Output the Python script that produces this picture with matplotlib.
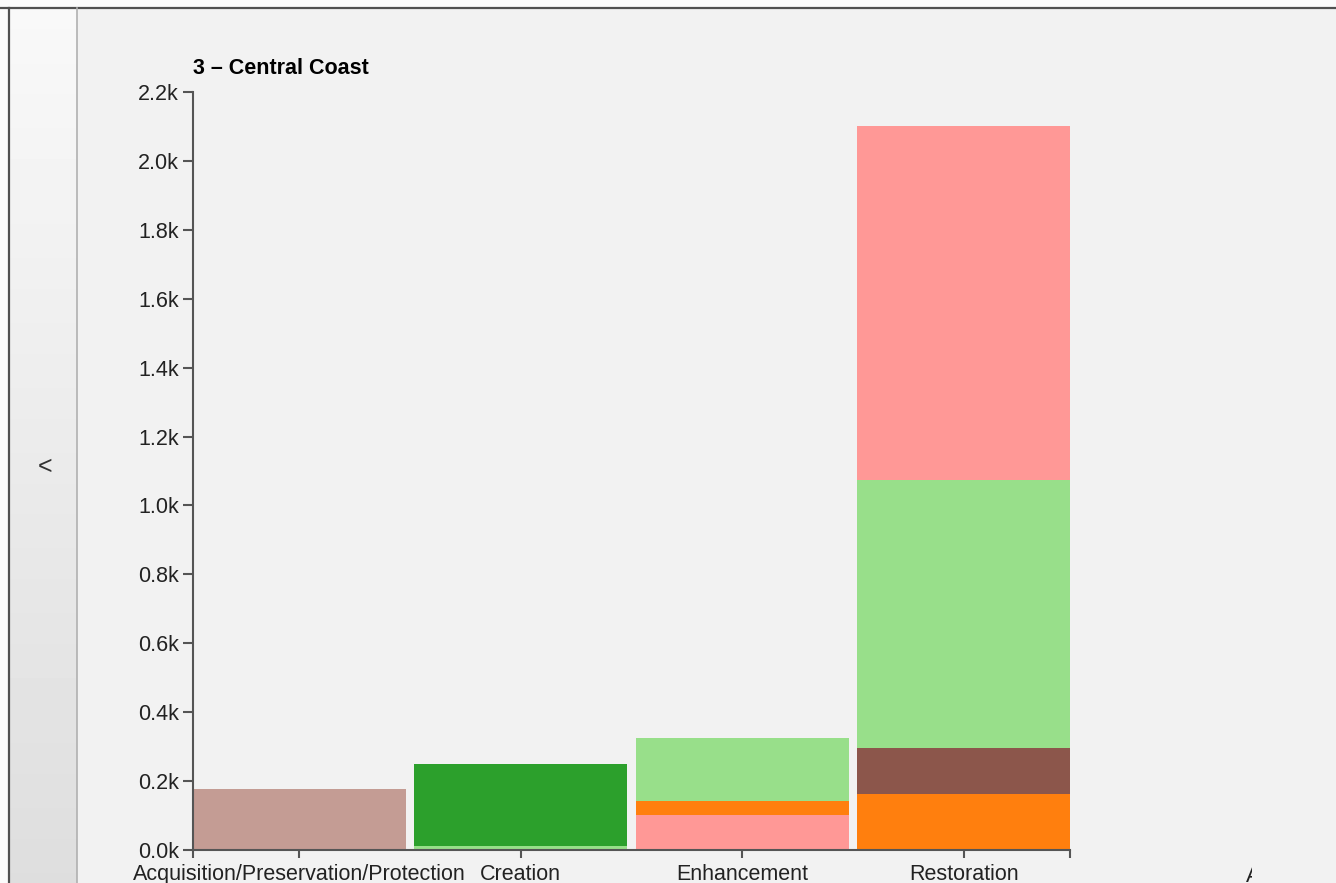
import matplotlib.pyplot as plt
from matplotlib.patches import Rectangle
from matplotlib.lines import Line2D
import numpy as np

plt.rcParams['font.family'] = ['Liberation Sans', 'DejaVu Sans']

title = "3 \u2013 Central Coast"
categories = ["Acquisition/Preservation/Protection", "Creation", "Enhancement", "Restoration"]

# stacked segments per category, bottom to top
seg_series = [
    ["brown_light"],
    ["green_light", "green"],
    ["pink", "orange", "green_light"],
    ["orange", "brown", "green_light", "pink"],
]
seg_values = [
    [177],
    [12, 238],
    [102, 41, 181],
    [163, 134, 777, 1028],
]
y_ticks = [0, 200, 400, 600, 800, 1000, 1200, 1400, 1600, 1800, 2000, 2200]

colores = {
    "brown_light": "#c49c94",
    "green_light": "#98df8a",
    "green": "#2ca02c",
    "pink": "#ff9896",
    "orange": "#ff7f0e",
    "brown": "#8c564b",
}

W, H = 1336, 883
fig = plt.figure(figsize=(W / 100, H / 100), dpi=100)
fig.patch.set_facecolor("#f2f2f2")

# top white strip and border
fig.add_artist(Rectangle((0, 1 - 7 / H), 1, 7 / H, transform=fig.transFigure,
                         facecolor="#fbfbfb", edgecolor="none"))
fig.add_artist(Line2D([0, 1], [1 - 8 / H, 1 - 8 / H], transform=fig.transFigure,
                      color="#505050", linewidth=1.6))
fig.add_artist(Rectangle((0, 0), 8 / W, 1 - 8 / H, transform=fig.transFigure,
                         facecolor="#fbfbfb", edgecolor="none"))

# left collapse panel
panel = fig.add_axes([9 / W, 0, 68 / W, 1 - 9 / H])
grad = np.linspace(0.975, 0.87, 256).reshape(-1, 1)
panel.imshow(grad, aspect="auto", cmap="gray", vmin=0, vmax=1, extent=[0, 1, 0, 1])
panel.set_xticks([])
panel.set_yticks([])
for s in panel.spines.values():
    s.set_visible(False)
fig.add_artist(Line2D([9 / W, 9 / W], [0, 1 - 8 / H], transform=fig.transFigure,
                      color="#505050", linewidth=1.6))
fig.add_artist(Line2D([77 / W, 77 / W], [0, 1 - 8 / H], transform=fig.transFigure,
                      color="#b0b0b0", linewidth=1.2))
fig.text(45 / W, 1 - 467 / H, "<", ha="center", va="center", fontsize=18, color="#333333")

# main chart
ax = fig.add_axes([193 / W, 1 - 850 / H, 877 / W, 758 / H])
ax.set_facecolor("none")

bw = 0.96
for i, cat in enumerate(categories):
    bottom = 0
    for key, val in zip(seg_series[i], seg_values[i]):
        ax.bar(i, val, width=bw, bottom=bottom, align="edge", color=colores[key],
               edgecolor="none")
        bottom += val

ax.set_xlim(0, len(categories) - 1 + bw)
ax.set_ylim(0, 2200)
ax.set_xticks([i + bw / 2 for i in range(len(categories))])
ax.set_xticklabels(categories)
ax.set_xticks([0, len(categories) - 1 + bw], minor=True)
ax.set_yticks(y_ticks)
ax.set_yticklabels([f"{v / 1000:.1f}k" for v in y_ticks])

axis_color = "#555555"
for side in ["top", "right"]:
    ax.spines[side].set_visible(False)
for side in ["left", "bottom"]:
    ax.spines[side].set_color(axis_color)
    ax.spines[side].set_linewidth(1.5)
ax.tick_params(axis="x", which="both", length=6, width=1.5, color=axis_color,
               labelsize=15.5, labelcolor="#222222", pad=4)
ax.tick_params(axis="y", length=7, width=1.5, color=axis_color,
               labelsize=15.5, labelcolor="#222222", pad=3)

fig.text(193 / W, 1 - 74 / H, title, ha="left", va="baseline", fontsize=15.5,
         fontweight="bold", color="black")

# clipped label at right edge
t = fig.text(1246 / W, 1 - 877 / H, "A", ha="left", va="center", fontsize=15.5,
             color="#222222")
clip = Rectangle((1240 / W, 0), 12 / W, 30 / H, transform=fig.transFigure)
t.set_clip_path(clip)

fig.savefig("out.png", dpi=100, facecolor=fig.get_facecolor())
